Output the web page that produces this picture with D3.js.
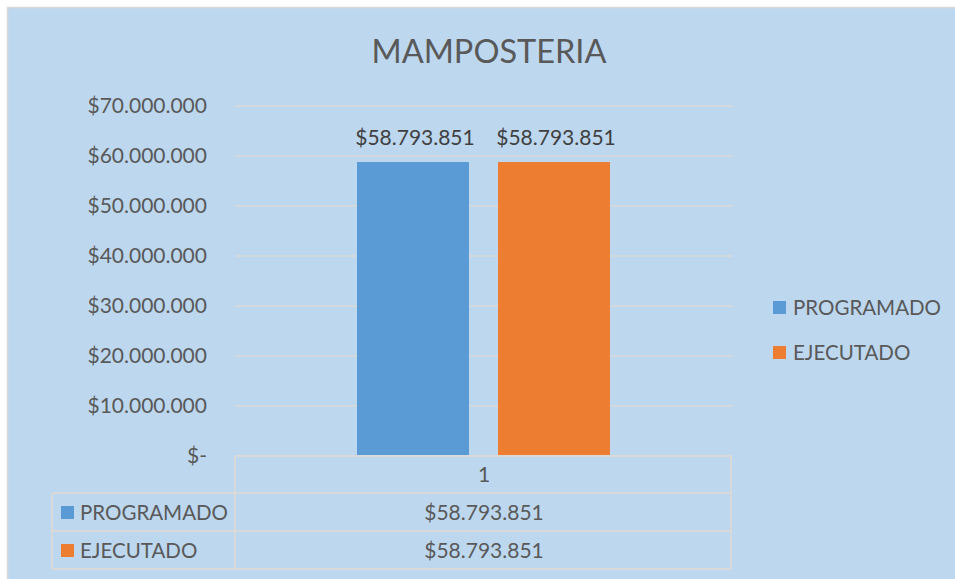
<!DOCTYPE html>
<html>
<head>
<meta charset="utf-8">
<script src="https://cdn.jsdelivr.net/npm/d3@7"></script>
<style>
  html, body { margin: 0; padding: 0; background: #ffffff; }
  svg { display: block; font-family: Lato, "Open Sans", sans-serif; }
</style>
</head>
<body>
<svg id="chart" width="955" height="579"></svg>
<script>
const title = "MAMPOSTERIA";
const categories = ["1"];
const seriesNames = ["PROGRAMADO", "EJECUTADO"];
const programado = [58793851];
const ejecutado = [58793851];
const yTicks = [0, 10000000, 20000000, 30000000, 40000000, 50000000, 60000000, 70000000];
const colors = ["#5b9bd5", "#ed7d31"];

const seriesValues = [programado, ejecutado];

const svg = d3.select("#chart");
const W = 955, H = 579;

const fmtMoney = v => v === 0 ? "$-" : "$" + d3.format(",")(v).replace(/,/g, ".");

// background
svg.append("rect").attr("x", 7.5).attr("y", 7.5).attr("width", W).attr("height", H)
  .attr("fill", "#bdd7ee").attr("stroke", "#d9d9d9").attr("stroke-width", 1.5);

// title
svg.append("text").attr("x", 489).attr("y", 63).attr("text-anchor", "middle")
  .attr("fill", "#595959").attr("font-size", 32.5).text(title);

const plot = { left: 235, right: 733, top: 106, bottom: 456 };

const y = d3.scaleLinear().domain([0, 70000000]).range([plot.bottom, plot.top]);
const x0 = d3.scaleBand().domain(categories).range([plot.left, plot.right]).paddingInner(0).paddingOuter(0);
const x1 = d3.scaleBand().domain(seriesNames).range([357 - plot.left, 610 - plot.left]).paddingInner(0.206);

// gridlines
svg.append("g").selectAll("line").data(yTicks.filter(d => d > 0)).join("line")
  .attr("x1", plot.left).attr("x2", plot.right)
  .attr("y1", d => y(d)).attr("y2", d => y(d))
  .attr("stroke", "#d9d9d9").attr("stroke-width", 1.5);

// y axis labels
const yAxis = d3.axisLeft(y).tickValues(yTicks).tickFormat(fmtMoney).tickSize(0).tickPadding(0);
const gy = svg.append("g").attr("transform", `translate(207,0)`).call(yAxis);
gy.select(".domain").remove();
gy.selectAll("text").attr("font-size", 21).attr("fill", "#595959")
  .attr("font-family", "Lato, 'Open Sans', sans-serif");

// bars
const groups = svg.append("g").selectAll("g").data(categories).join("g")
  .attr("transform", d => `translate(${x0(d)},0)`);
groups.selectAll("rect").data((d, i) => seriesNames.map((s, j) => ({ s, v: seriesValues[j][i], j })))
  .join("rect")
  .attr("x", d => x1(d.s)).attr("width", x1.bandwidth())
  .attr("y", d => y(d.v)).attr("height", d => y(0) - y(d.v))
  .attr("fill", d => colors[d.j]);
groups.selectAll("text.lbl").data((d, i) => seriesNames.map((s, j) => ({ s, v: seriesValues[j][i], j })))
  .join("text").attr("class", "lbl")
  .attr("x", d => x1(d.s) + x1.bandwidth() / 2 + 2).attr("y", d => y(d.v) - 17)
  .attr("text-anchor", "middle").attr("font-size", 21).attr("fill", "#404040")
  .text(d => fmtMoney(d.v));

// data table
const tbl = { left: 52, col: plot.left, right: 731, rows: [456, 493, 531, 569] };
const tg = svg.append("g").attr("stroke", "#d9d9d9").attr("stroke-width", 2).attr("fill", "none");
tg.append("line").attr("x1", tbl.col).attr("x2", tbl.right).attr("y1", tbl.rows[0]).attr("y2", tbl.rows[0]);
tg.append("line").attr("x1", tbl.col).attr("x2", tbl.col).attr("y1", tbl.rows[0]).attr("y2", tbl.rows[3]);
tg.append("line").attr("x1", tbl.right).attr("x2", tbl.right).attr("y1", tbl.rows[0]).attr("y2", tbl.rows[3]);
tg.append("line").attr("x1", tbl.left).attr("x2", tbl.left).attr("y1", tbl.rows[1]).attr("y2", tbl.rows[3]);
[1, 2, 3].forEach(k => tg.append("line").attr("x1", tbl.left).attr("x2", tbl.right)
  .attr("y1", tbl.rows[k]).attr("y2", tbl.rows[k]));

const colCenter = x0(categories[0]) + x0.bandwidth() / 2;
svg.append("text").attr("x", colCenter).attr("y", 482).attr("text-anchor", "middle")
  .attr("font-size", 21).attr("fill", "#595959").text(categories[0]);

seriesNames.forEach((s, j) => {
  const yc = (tbl.rows[j + 1] + tbl.rows[j + 2]) / 2;
  svg.append("rect").attr("x", 61).attr("y", yc - 6).attr("width", 13).attr("height", 13).attr("fill", colors[j]);
  svg.append("text").attr("x", 80).attr("y", yc + 8).attr("font-size", 20.5).attr("fill", "#595959").text(s);
  svg.append("text").attr("x", colCenter).attr("y", yc + 8).attr("text-anchor", "middle")
    .attr("font-size", 21).attr("fill", "#595959").text(fmtMoney(seriesValues[j][0]));
});

// legend
const leg = svg.append("g").selectAll("g").data(seriesNames).join("g")
  .attr("transform", (d, i) => `translate(773,${307 + i * 45})`);
leg.append("rect").attr("x", 0).attr("y", -6).attr("width", 13).attr("height", 13).attr("fill", (d, i) => colors[i]);
leg.append("text").attr("x", 20).attr("y", 8).attr("font-size", 20.5).attr("fill", "#595959").text(d => d);
</script>
</body>
</html>
